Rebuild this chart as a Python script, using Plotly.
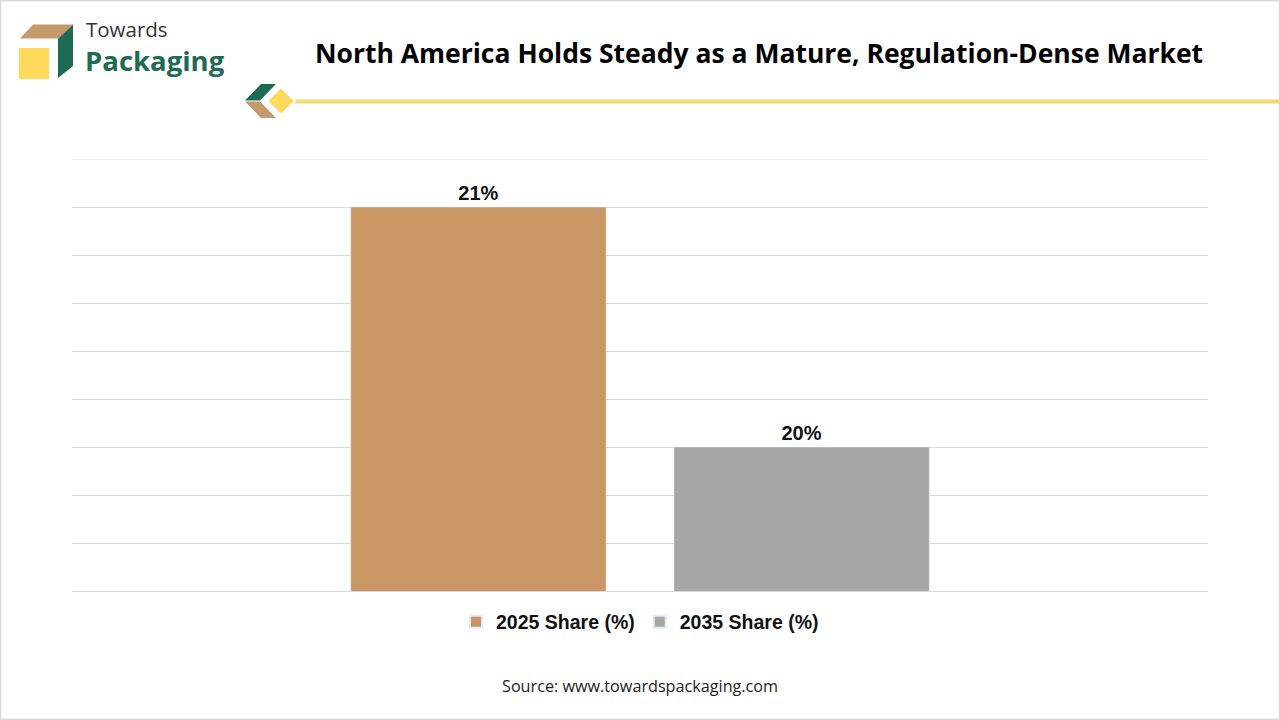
import plotly.graph_objects as go

# ---- data ----
categories = ["North America"]
series_names = ["2025 Share (%)", "2035 Share (%)"]
series_values = [[21], [20]]
series_labels = [["21%"], ["20%"]]
series_colors = ["#C99664", "#A6A6A6"]
y_min, y_max, y_step = 19.4, 21.2, 0.2

W, H = 1280, 720
L, R, T, B = 72, 72, 159, 129
PW, PH = W - L - R, H - T - B


def px(x):
    return (x - L) / PW


def py(y):
    return (H - B - y) / PH


fig = go.Figure()
for name, vals, labs, col in zip(series_names, series_values, series_labels, series_colors):
    fig.add_trace(go.Bar(
        x=categories, y=vals, name=name, marker_color=col,
        text=labs, texttemplate="%{text}", textposition="outside",
        textfont=dict(family="Liberation Sans", size=20, color="#111111", weight="bold"),
        cliponaxis=False, hoverinfo="skip",
    ))


def poly(points, color, line_color=None, lw=0):
    path = "M " + " L ".join(f"{px(a):.5f},{py(b):.5f}" for a, b in points) + " Z"
    return dict(type="path", xref="paper", yref="paper", path=path,
                fillcolor=color, line=dict(color=line_color or color, width=lw), layer="above")


shapes = [
    # outer border
    dict(type="rect", xref="paper", yref="paper", x0=px(0.5), x1=px(W - 0.5), y0=py(0.5), y1=py(H - 0.5),
         line=dict(color="#D6D6D6", width=1.5), fillcolor="rgba(0,0,0,0)", layer="below"),
    # top gridline (at the upper end of the axis range)
    dict(type="line", xref="paper", yref="y", x0=0, x1=1, y0=y_max, y1=y_max,
         line=dict(color="#D9D9D9", width=1), layer="below"),
    # logo
    poly([(20, 38.5), (33, 24.5), (73, 24.5), (59, 38.5)], "#C49A6C"),
    poly([(58, 39), (73, 24.5), (73, 66), (58, 78)], "#1D6A55"),
    poly([(19, 48), (49, 48), (49, 79), (19, 79)], "#FFD95A"),
    # yellow line
    dict(type="line", xref="paper", yref="paper", x0=px(285), x1=px(W), y0=py(101.5), y1=py(101.5),
         line=dict(color="#F5D76E", width=4), layer="above"),
    # decoration
    poly([(245, 100.5), (261, 84), (276, 84), (260, 100.5)], "#1D6A55"),
    poly([(245, 101.5), (260, 101.5), (276, 118), (261, 118)], "#C49A6C"),
    poly([(281, 87), (295, 101), (281, 115), (267, 101)], "#FFD95A", "#FFFFFF", 2),
]

annotations = [
    dict(text="<b>North America Holds Steady as a Mature, Regulation-Dense Market</b>",
         x=px(759), y=py(53), xref="paper", yref="paper", showarrow=False,
         xanchor="center", yanchor="middle",
         font=dict(family="Open Sans", size=26.5, color="#000000")),
    dict(text="Towards", x=px(84), y=py(28.5), xref="paper", yref="paper", showarrow=False,
         xanchor="left", yanchor="middle", font=dict(family="Open Sans", size=20.5, color="#333333")),
    dict(text="<b>Packaging</b>", x=px(83), y=py(60.5), xref="paper", yref="paper", showarrow=False,
         xanchor="left", yanchor="middle", font=dict(family="Open Sans", size=27.5, color="#1D6A55")),
    dict(text="Source: www.towardspackaging.com", x=px(640), y=py(686), xref="paper", yref="paper",
         showarrow=False, xanchor="center", yanchor="middle",
         font=dict(family="Open Sans", size=16.2, color="#222222")),
]

fig.update_layout(
    width=W, height=H,
    margin=dict(l=L, r=R, t=T, b=B, pad=0),
    paper_bgcolor="white", plot_bgcolor="white",
    barmode="group", bargap=0.431, bargroupgap=0.21,
    showlegend=True,
    legend=dict(orientation="h", x=0.5, xanchor="center", y=py(622), yanchor="middle",
                font=dict(family="Liberation Sans", size=19.5, color="#111111", weight="bold"),
                itemsizing="constant", traceorder="normal", itemwidth=30),
    shapes=shapes, annotations=annotations,
    xaxis=dict(range=[-0.5, 0.5], showticklabels=False, showgrid=False, zeroline=False,
               showline=True, linecolor="#D9D9D9", linewidth=1, fixedrange=True),
    yaxis=dict(range=[y_min, y_max], dtick=y_step, tick0=y_min, showticklabels=False, showgrid=True,
               gridcolor="#D9D9D9", gridwidth=1, zeroline=False, showline=False, fixedrange=True),
)

fig.write_html("out.html", config={"displayModeBar": False},
               post_script="document.body.style.margin='0';document.body.style.padding='0';")
